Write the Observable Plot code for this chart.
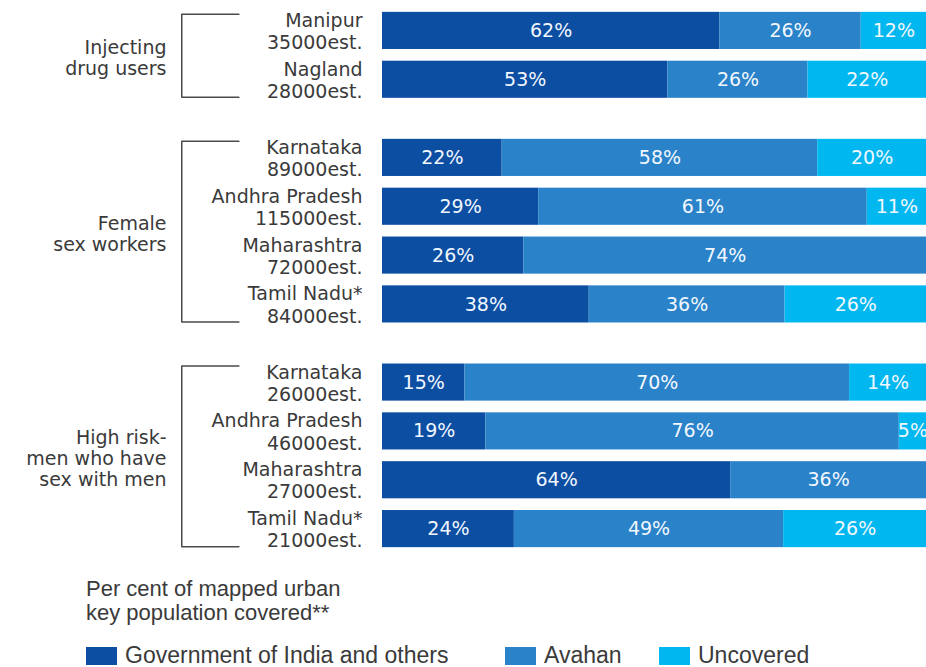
<!DOCTYPE html>
<html>
<head>
<meta charset="utf-8">
<script src="https://cdn.jsdelivr.net/npm/d3@7"></script>
<script src="https://cdn.jsdelivr.net/npm/@observablehq/plot@0.6"></script>
<style>
  body { margin: 0; background: #fff; font-family: "DejaVu Sans", sans-serif; color: #3a3a3a; }
  #chart svg { display: block; }
  .caption { margin: 17px 0 0 86px; font-family: "Liberation Sans", sans-serif; font-size: 22px; line-height: 24px; color: #3a3a3a; }
  .legend { position: relative; height: 24px; margin-top: 17px; font-family: "Liberation Sans", sans-serif; font-size: 23px; color: #3a3a3a; }
  .legend span.sw { display: inline-block; width: 31px; height: 18px; margin-right: 8px; }
  .legend .item { position: absolute; top: 0; display: flex; align-items: center; white-space: nowrap; }
</style>
</head>
<body>
<div id="chart"></div>
<div class="caption">Per cent of mapped urban<br>key population covered**</div>
<div class="legend" id="legend"></div>
<script>
// ---- data ----
const groups = ["Injecting\ndrug users", "Female\nsex workers", "High risk-\nmen who have\nsex with men"];
const states = ["Manipur", "Nagland", "Karnataka", "Andhra Pradesh", "Maharashtra", "Tamil Nadu*",
                "Karnataka", "Andhra Pradesh", "Maharashtra", "Tamil Nadu*"];
const estimates = [35000, 28000, 89000, 115000, 72000, 84000, 26000, 46000, 27000, 21000];
const groupOf = [0, 0, 1, 1, 1, 1, 2, 2, 2, 2];
const categories = ["Government of India and others", "Avahan", "Uncovered"];
const govt = [62, 53, 22, 29, 26, 38, 15, 19, 64, 24];
const avahan = [26, 26, 58, 61, 74, 36, 70, 76, 36, 49];
const uncovered = [12, 22, 20, 11, 0, 26, 14, 5, 0, 26];
const colors = ["#0c4ea2", "#2a83c9", "#00b8ef"];

// ---- layout helpers ----
const GAP = 0.6;     // extra space between groups (in rows)
const HALF = 0.38;   // half bar thickness (in rows)
const rowPos = states.map((_, i) => i + groupOf[i] * GAP);

const series = [govt, avahan, uncovered];
const segs = [];
states.forEach((s, i) => {
  const total = series.reduce((a, arr) => a + arr[i], 0);
  let cum = 0;
  series.forEach((arr, k) => {
    const v = arr[i];
    if (v > 0) {
      segs.push({row: i, y1: rowPos[i] - HALF, y2: rowPos[i] + HALF, y: rowPos[i],
                 x1: cum / total * 100, x2: (cum + v) / total * 100, xm: (cum + v / 2) / total * 100,
                 cat: categories[k], label: v + "%"});
    }
    cum += v;
  });
});

const rows = states.map((s, i) => ({y: rowPos[i], label: s + "\n" + estimates[i] + "est."}));

const grp = groups.map((g, gi) => {
  const idx = groupOf.map((v, i) => v === gi ? i : -1).filter(i => i >= 0);
  const top = rowPos[idx[0]] - HALF + 0.04, bot = rowPos[idx[idx.length - 1]] + HALF - 0.02;
  return {label: g, top, bot, mid: (top + bot) / 2, gi};
});
// bracket in x-scale units (left of the bars)
const BX = -36.9, TX = -26.4;
const bracketPts = grp.flatMap(g => [
  {g: g.gi, x: TX, y: g.top}, {g: g.gi, x: BX, y: g.top},
  {g: g.gi, x: BX, y: g.bot}, {g: g.gi, x: TX, y: g.bot}
]);

const maxPos = rowPos[rowPos.length - 1];

const chart = Plot.plot({
  width: 926,
  height: 560,
  marginLeft: 382,
  marginRight: 0,
  marginTop: 6,
  marginBottom: 7,
  x: {domain: [0, 100], axis: null},
  y: {domain: [-0.5, maxPos + 0.5], axis: null, reverse: true},
  color: {domain: categories, range: colors},
  style: {fontFamily: "DejaVu Sans, sans-serif"},
  marks: [
    Plot.rect(segs, {x1: "x1", x2: "x2", y1: "y1", y2: "y2", fill: "cat"}),
    Plot.text(segs, {x: "xm", y: "y", text: "label", fill: "#f2f7ff", fontSize: 19}),
    Plot.text(rows, {x: 0, y: "y", text: "label", dx: -20, textAnchor: "end", lineAnchor: "middle",
                     lineHeight: 1.17, fontSize: 19, fill: "#3a3a3a"}),
    Plot.line(bracketPts, {x: "x", y: "y", z: "g", stroke: "#4a4a4a", strokeWidth: 1.5, curve: "linear"}),
    Plot.text(grp, {x: 0, y: "mid", text: "label", dx: -216, dy: 2, textAnchor: "end", lineAnchor: "middle",
                    lineHeight: 1.1, fontSize: 19, fill: "#3a3a3a"})
  ]
});
document.getElementById("chart").append(chart);

// legend
const leg = document.getElementById("legend");
const legLeft = [86, 505, 659];
categories.forEach((c, k) => {
  const it = document.createElement("div");
  it.className = "item";
  it.style.left = legLeft[k] + "px";
  it.innerHTML = `<span class="sw" style="background:${colors[k]}"></span><span>${c}</span>`;
  leg.append(it);
});
</script>
</body>
</html>
